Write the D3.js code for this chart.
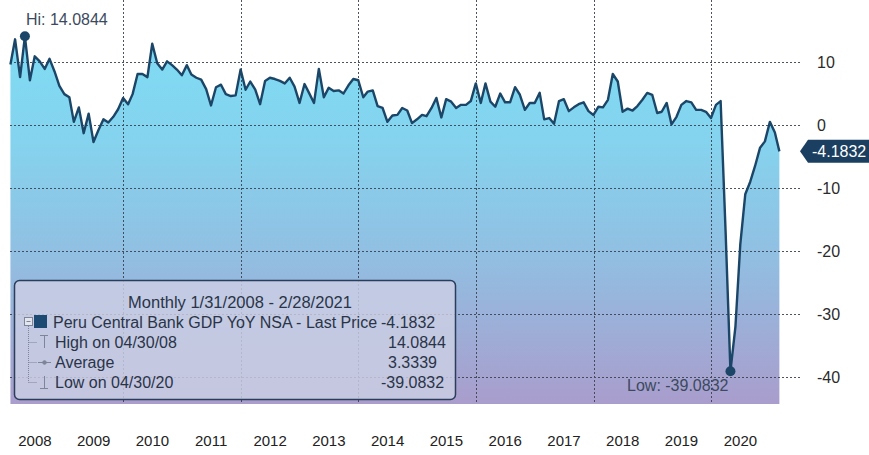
<!DOCTYPE html>
<html>
<head>
<meta charset="utf-8">
<script src="https://cdn.jsdelivr.net/npm/d3@7/dist/d3.min.js"></script>
<style>
  html, body { margin: 0; padding: 0; background: #ffffff; }
  svg { display: block; }
  text { font-family: "Liberation Sans", Arial, sans-serif; }
</style>
</head>
<body>
<svg id="chart" width="869" height="455"></svg>
<script>
// Peru Central Bank GDP YoY NSA, monthly, month-end observations from 1/31/2008
const seriesStart = [2008, 0];
const gdpYoY = [
  // 2008
  9.6, 13.6, 7.6, 14.0844, 7.1, 10.9, 10.1, 8.9, 10.5, 8.5, 6.2, 4.9,
  // 2009
  4.4, 0.5, 2.8, -1.3, 1.8, -2.7, -0.8, 0.9, 0.4, 1.3, 2.5, 4.3,
  // 2010
  3.3, 4.9, 8.1, 8.1, 7.6, 12.9, 9.8, 8.8, 10.1, 9.5, 8.8, 7.9,
  // 2011
  9.5, 8.0, 7.5, 7.2, 5.7, 3.1, 6.0, 6.4, 4.9, 4.6, 4.7, 8.8,
  // 2012
  5.6, 6.9, 5.6, 3.3, 7.0, 7.5, 7.3, 7.0, 6.6, 7.5, 6.1, 3.5,
  // 2013
  6.5, 5.1, 3.5, 8.9, 4.4, 5.9, 5.4, 5.5, 5.0, 6.3, 7.3, 7.1,
  // 2014
  4.4, 5.3, 5.5, 3.0, 2.7, 0.5, 1.5, 1.6, 2.7, 2.3, 0.3, 0.9,
  // 2015
  1.6, 1.4, 2.7, 4.3, 1.2, 4.1, 3.7, 2.7, 3.2, 3.2, 3.8, 6.6,
  // 2016
  3.5, 6.6, 3.7, 2.9, 5.0, 3.6, 3.6, 6.0, 4.8, 2.4, 3.5, 3.5,
  // 2017
  5.1, 0.9, 1.1, 0.2, 3.8, 4.1, 2.2, 2.8, 3.3, 3.6, 2.2, 1.6,
  // 2018
  2.9, 2.8, 4.0, 8.1, 6.9, 2.1, 2.6, 2.3, 3.0, 4.0, 5.1, 4.8,
  // 2019
  1.9, 2.1, 3.5, 0.1, 1.3, 3.2, 3.8, 3.6, 2.4, 2.4, 2.1, 1.1,
  // 2020
  3.2, 3.8, -17.0, -39.0832, -32.0, -19.0, -11.0, -9.0, -6.5, -3.6, -2.6, 0.5,
  // 2021
  -1.2, -4.1832
];
const yTicks = [10, 0, -10, -20, -30, -40];
const yearLabels = ["2008", "2009", "2010", "2011", "2012", "2013", "2014",
                    "2015", "2016", "2017", "2018", "2019", "2020"];
const gridYears = [2010, 2012, 2014, 2016, 2018, 2020];
const legendTitle = "Monthly 1/31/2008 - 2/28/2021";
const legendNames = ["Peru Central Bank GDP YoY NSA - Last Price", "High on 04/30/08", "Average", "Low on 04/30/20"];
const legendValues = ["-4.1832", "14.0844", "3.3339", "-39.0832"];

const data = gdpYoY.map((v, i) => ({
  date: new Date(seriesStart[0], seriesStart[1] + i + 1, 0),
  v: v
}));

// plain hyphen for negative numbers
const fmt4 = d3.formatLocale({ decimal: ".", thousands: ",", grouping: [3], currency: ["", ""], minus: "-" }).format(".4f");

const svg = d3.select("#chart");
const plot = { left: 10, right: 800, top: 0, bottom: 404 };

const x = d3.scaleTime()
  .domain([new Date(2008, 0, 1), new Date(2022, 0, 1)])
  .range([5.6, 828.8]);
const y = d3.scaleLinear().domain([-40, 10]).range([377, 62]);

// vertical gradient behind the series
const defs = svg.append("defs");
const grad = defs.append("linearGradient")
  .attr("id", "areaFill").attr("gradientUnits", "userSpaceOnUse")
  .attr("x1", 0).attr("y1", 30).attr("x2", 0).attr("y2", plot.bottom);
[[0, "#7edcf4"], [0.3, "#85d3ee"], [0.6, "#91bfe2"], [1, "#a99dcc"]]
  .forEach(([o, c]) => grad.append("stop").attr("offset", o).attr("stop-color", c));

const area = d3.area()
  .x(d => x(d.date)).y0(plot.bottom).y1(d => y(d.v));
svg.append("path").datum(data)
  .attr("d", area).attr("fill", "url(#areaFill)");

// dotted grid
const grid = svg.append("g").attr("stroke", "#3a4250").attr("stroke-width", 1)
  .attr("stroke-dasharray", "2,2").attr("opacity", 0.9);
grid.selectAll("line.h").data(yTicks).join("line")
  .attr("x1", plot.left).attr("x2", plot.right)
  .attr("y1", d => Math.round(y(d)) + 0.5).attr("y2", d => Math.round(y(d)) + 0.5);
grid.selectAll("line.v").data(gridYears).join("line")
  .attr("x1", d => Math.round(x(new Date(d, 0, 1))) + 0.5)
  .attr("x2", d => Math.round(x(new Date(d, 0, 1))) + 0.5)
  .attr("y1", plot.top).attr("y2", plot.bottom);

// right value axis
const yAxis = svg.append("g").attr("transform", "translate(812,0)")
  .call(d3.axisRight(y).tickValues(yTicks).tickSize(0).tickPadding(5).tickFormat(d => String(d)));
yAxis.select(".domain").remove();
yAxis.selectAll("text").attr("font-size", 16).attr("fill", "#2b2b2b")
  .attr("font-family", "Liberation Sans, Arial, sans-serif");

// year labels centred on each year
svg.append("g").selectAll("text").data(yearLabels).join("text")
  .attr("x", d => x(new Date(+d, 6, 1)))
  .attr("y", 440)
  .attr("text-anchor", "middle").attr("dominant-baseline", "central")
  .attr("font-size", 15).attr("fill", "#222")
  .text(d => d);

// legend panel
const lg = svg.append("g");
lg.append("rect").attr("x", 14.5).attr("y", 280.5).attr("width", 441).attr("height", 119)
  .attr("rx", 5).attr("fill", "#ccd0e4").attr("fill-opacity", 0.82)
  .attr("stroke", "#2b3d5a").attr("stroke-width", 1.5);
lg.append("text").attr("x", 240).attr("y", 302).attr("text-anchor", "middle")
  .attr("dominant-baseline", "central").attr("font-size", 16.5).attr("fill", "#2a3448")
  .text(legendTitle);

const rowY = [322, 342, 362, 382];
const tree = lg.append("g").attr("stroke", "#7d8598").attr("stroke-width", 1).attr("fill", "none");
tree.append("rect").attr("x", 24.5).attr("y", 317.5).attr("width", 8).attr("height", 8).attr("fill", "#e4e6ef");
tree.append("line").attr("x1", 26.5).attr("x2", 30.5).attr("y1", 321.5).attr("y2", 321.5);
tree.append("line").attr("x1", 28.5).attr("x2", 28.5).attr("y1", 326).attr("y2", rowY[3] + 0.5)
  .attr("stroke-dasharray", "1,1");
rowY.slice(1).forEach(ry => tree.append("line").attr("x1", 28.5).attr("x2", 37)
  .attr("y1", ry + 0.5).attr("y2", ry + 0.5).attr("stroke-dasharray", "1,1"));
// high marker
tree.append("line").attr("x1", 40).attr("x2", 48).attr("y1", 335.5).attr("y2", 335.5);
tree.append("line").attr("x1", 44.5).attr("x2", 44.5).attr("y1", 335.5).attr("y2", 348);
// average marker
tree.append("line").attr("x1", 38).attr("x2", 51).attr("y1", 362.5).attr("y2", 362.5);
tree.append("circle").attr("cx", 44.5).attr("cy", 362.5).attr("r", 1.8).attr("fill", "#7d8598");
// low marker
tree.append("line").attr("x1", 44.5).attr("x2", 44.5).attr("y1", 376).attr("y2", 388.5);
tree.append("line").attr("x1", 40).attr("x2", 48).attr("y1", 388.5).attr("y2", 388.5);

lg.append("rect").attr("x", 34).attr("y", 315).attr("width", 13).attr("height", 13).attr("fill", "#1d4a72");

lg.selectAll("text.name").data(legendNames).join("text")
  .attr("x", (d, i) => i === 0 ? 53 : 55).attr("y", (d, i) => rowY[i])
  .attr("dominant-baseline", "central").attr("font-size", 16).attr("fill", "#2a3448")
  .text(d => d);
lg.selectAll("text.val").data(legendValues).join("text")
  .attr("x", (d, i) => d.startsWith("-") ? 381 : 388).attr("y", (d, i) => rowY[i])
  .attr("dominant-baseline", "central").attr("font-size", 16).attr("fill", "#2a3448")
  .text(d => d);

// series line
svg.append("path").datum(data)
  .attr("d", d3.line().x(d => x(d.date)).y(d => y(d.v)))
  .attr("fill", "none").attr("stroke", "#1b4667").attr("stroke-width", 2.4)
  .attr("stroke-linejoin", "round");

// high / low markers
const hi = data.reduce((a, b) => (b.v > a.v ? b : a));
const lo = data.reduce((a, b) => (b.v < a.v ? b : a));
[hi, lo].forEach(p => svg.append("circle")
  .attr("cx", x(p.date)).attr("cy", y(p.v)).attr("r", 5).attr("fill", "#1b4667"));
svg.append("text").attr("x", x(hi.date) + 1).attr("y", y(hi.v) - 17)
  .attr("dominant-baseline", "central").attr("font-size", 16).attr("fill", "#3c4a5e")
  .text("Hi: " + fmt4(hi.v));
svg.append("text").attr("x", x(lo.date) - 2).attr("y", y(lo.v) + 14)
  .attr("text-anchor", "end").attr("dominant-baseline", "central")
  .attr("font-size", 16).attr("fill", "#3c4a5e")
  .text("Low: " + fmt4(lo.v));

// last value tag
const last = data[data.length - 1];
const ty = y(last.v);
svg.append("path")
  .attr("d", `M800,${ty} L808,${ty - 11.5} L869,${ty - 11.5} L869,${ty + 11.5} L808,${ty + 11.5} Z`)
  .attr("fill", "#1b3f60");
svg.append("text").attr("x", 812).attr("y", ty).attr("dominant-baseline", "central")
  .attr("font-size", 16).attr("fill", "#ffffff").text(fmt4(last.v));
</script>
</body>
</html>
